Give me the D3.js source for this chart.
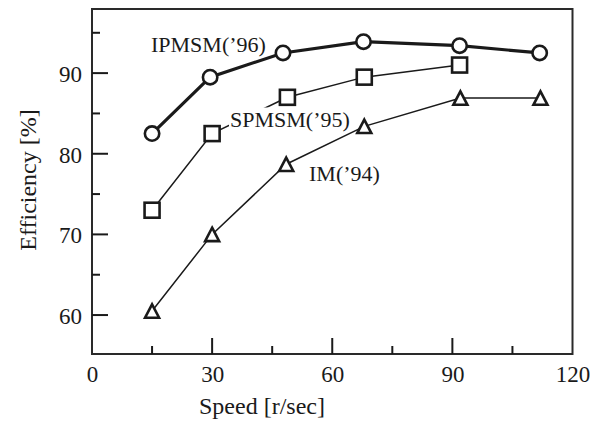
<!DOCTYPE html>
<html><head><meta charset="utf-8">
<script src="https://cdn.jsdelivr.net/npm/d3@7"></script>
<style>
html,body{margin:0;padding:0;background:#fff;}
text{font-family:"Liberation Serif","Times New Roman",serif;fill:#1a1a1a;}
</style></head>
<body>
<svg id="chart" width="599" height="423"></svg>
<script>
// Data
const ipmX = [15, 29.5, 47.7, 67.8, 91.8, 111.8];
const ipmY = [82.5, 89.5, 92.5, 93.9, 93.4, 92.5];
const spmX = [15, 30, 48.8, 68, 91.8];
const spmY = [73.0, 82.5, 87.0, 89.5, 91.0];
const imX  = [15, 30, 48.5, 68, 92, 112];
const imY  = [60.5, 70.0, 78.7, 83.4, 86.9, 86.9];
const xTicks = [0, 30, 60, 90, 120];
const xMinor = [15, 45, 75, 105];
const yTicks = [60, 70, 80, 90];
const yMinor = [65, 75, 85, 95];
const seriesNames = ["IPMSM(’96)", "SPMSM(’95)", "IM(’94)"];
const xTitle = "Speed [r/sec]";
const yTitle = "Efficiency [%]";

const svg = d3.select("#chart");
const L = 92, T = 9, R = 572.5, B = 354;
const x = d3.scaleLinear().domain([0, 120]).range([L, R]);
const y = d3.scaleLinear().domain([55.17, 97.95]).range([B, T]);
const ink = "#1a1a1a";
const FONT = "Liberation Serif";

// frame
svg.append("rect").attr("x", L).attr("y", T).attr("width", R - L).attr("height", B - T)
  .attr("fill", "none").attr("stroke", "#2a2a2a").attr("stroke-width", 2);

// x axis (inward ticks)
const xa = svg.append("g").attr("transform", `translate(0,${B})`)
  .call(d3.axisBottom(x).tickValues(xTicks).tickSize(0).tickPadding(0).tickFormat(d3.format("d")))
  .attr("font-family", FONT).attr("font-size", 23);
xa.select(".domain").remove();
xa.selectAll(".tick line").remove();
xa.selectAll(".tick text").attr("y", 28).attr("dy", null).attr("fill", ink);
svg.append("g").selectAll("line").data(xTicks.filter(d => d > 0 && d < 120)).join("line")
  .attr("x1", d => x(d)).attr("x2", d => x(d)).attr("y1", B).attr("y2", B - 16)
  .attr("stroke", ink).attr("stroke-width", 2);
svg.append("g").selectAll("line").data(xMinor).join("line")
  .attr("x1", d => x(d)).attr("x2", d => x(d)).attr("y1", B).attr("y2", B - 8)
  .attr("stroke", ink).attr("stroke-width", 2);

// y axis
const ya = svg.append("g").attr("transform", `translate(${L},0)`)
  .call(d3.axisLeft(y).tickValues(yTicks).tickSize(0).tickPadding(10).tickFormat(d3.format("d")))
  .attr("font-family", FONT).attr("font-size", 23);
ya.select(".domain").remove();
ya.selectAll(".tick line").remove();
ya.selectAll(".tick text").attr("dy", "0.36em").attr("x", -10).attr("fill", ink);
svg.append("g").selectAll("line").data(yTicks).join("line")
  .attr("x1", L).attr("x2", L + 16).attr("y1", d => y(d)).attr("y2", d => y(d))
  .attr("stroke", ink).attr("stroke-width", 2);
svg.append("g").selectAll("line").data(yMinor).join("line")
  .attr("x1", L).attr("x2", L + 8).attr("y1", d => y(d)).attr("y2", d => y(d))
  .attr("stroke", ink).attr("stroke-width", 2);

// axis titles
svg.append("text").attr("x", 262).attr("y", 414).attr("text-anchor", "middle")
  .style("font-size", "24px").text(xTitle);
svg.append("text").attr("transform", "translate(36,180) rotate(-90)").attr("text-anchor", "middle")
  .style("font-size", "24px").text(yTitle);

const line = d3.line().x(d => x(d[0])).y(d => y(d[1]));
const ipm = ipmX.map((v, i) => [v, ipmY[i]]);
const spm = spmX.map((v, i) => [v, spmY[i]]);
const im = imX.map((v, i) => [v, imY[i]]);

// lines
svg.append("path").datum(im).attr("d", line).attr("fill", "none").attr("stroke", ink).attr("stroke-width", 1.5);
svg.append("path").datum(spm).attr("d", line).attr("fill", "none").attr("stroke", ink).attr("stroke-width", 1.5);
svg.append("path").datum(ipm).attr("d", line).attr("fill", "none").attr("stroke", ink).attr("stroke-width", 3.2);

// series labels (with white background)
function label(txt, lx, ly, size) {
  const g = svg.append("g");
  const t = g.append("text").attr("x", lx).attr("y", ly).style("font-size", size + "px").text(txt);
  const bb = t.node().getBBox();
  g.insert("rect", "text").attr("x", bb.x - 1).attr("y", bb.y + 1).attr("width", bb.width + 2)
    .attr("height", bb.height - 2).attr("fill", "#fff");
}
label(seriesNames[0], 151, 51.5, 22);
label(seriesNames[1], 230, 126.5, 22);
label(seriesNames[2], 309, 180.5, 22);

// markers
svg.append("g").selectAll("rect").data(spm).join("rect")
  .attr("x", d => x(d[0]) - 7.5).attr("y", d => y(d[1]) - 7.5).attr("width", 15).attr("height", 15)
  .attr("fill", "#fff").attr("stroke", ink).attr("stroke-width", 2.6);
svg.append("g").selectAll("path").data(im).join("path")
  .attr("d", d => {
    const cx = x(d[0]), cy = y(d[1]), w = 7, h = 6.7;
    return `M${cx},${cy - h}L${cx + w},${cy + h}L${cx - w},${cy + h}Z`;
  })
  .attr("fill", "#fff").attr("stroke", ink).attr("stroke-width", 2.6).attr("stroke-linejoin", "miter");
svg.append("g").selectAll("circle").data(ipm).join("circle")
  .attr("cx", d => x(d[0])).attr("cy", d => y(d[1])).attr("r", 7.2)
  .attr("fill", "#fff").attr("stroke", ink).attr("stroke-width", 2.6);
</script>
</body></html>
